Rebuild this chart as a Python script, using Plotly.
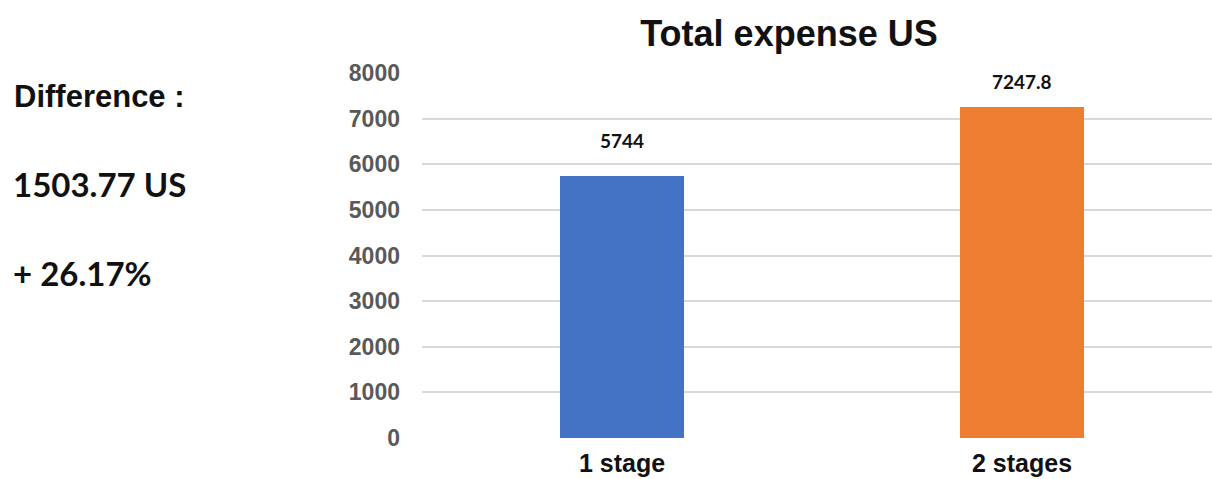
import plotly.graph_objects as go

# Expense totals per configuration
categories = ["1 stage", "2 stages"]
totals = [5744, 7247.8]
value_labels = ["5744", "7247.8"]
bar_colors = ["#4472C4", "#ED7D31"]
y_ticks = [0, 1000, 2000, 3000, 4000, 5000, 6000, 7000, 8000]

# Summary text shown beside the chart
summary_lines = ["Difference :", "1503.77 US", "+ 26.17%"]

ARIAL = "Liberation Sans"

fig = go.Figure()
fig.add_trace(go.Bar(
    x=categories,
    y=totals,
    width=0.31,
    marker=dict(color=bar_colors, line=dict(width=0)),
    hoverinfo="x+y",
))

# value labels above the bars
label_shift = [22, 12]
for cat, val, txt, dy in zip(categories, totals, value_labels, label_shift):
    fig.add_annotation(
        x=cat, y=val, text=txt, showarrow=False,
        yanchor="bottom", yshift=dy,
        font=dict(family="Lato", size=19, color="#111111", weight="bold"),
    )

# summary block on the left
fig.add_annotation(
    xref="paper", yref="paper", x=-422 / 790 + 12 / 790, y=1 + (73 - 97) / 365,
    xanchor="left", yanchor="middle", showarrow=False,
    text=summary_lines[0],
    font=dict(family=ARIAL, size=31, color="#111111", weight="bold"),
)
for line, yc in zip(summary_lines[1:], [184, 273]):
    fig.add_annotation(
        xref="paper", yref="paper", x=-422 / 790 + 11 / 790, y=1 + (73 - yc) / 365,
        xanchor="left", yanchor="middle", showarrow=False,
        text=line,
        font=dict(family="Lato", size=33, color="#111111", weight="bold"),
    )

fig.update_layout(
    width=1212, height=479,
    margin=dict(l=422, r=0, t=73, b=41),
    paper_bgcolor="white", plot_bgcolor="white",
    showlegend=False,
    bargap=0,
    title=dict(
        text="Total expense US",
        x=789 / 1212, xanchor="center", xref="container",
        y=1 - 33 / 479, yanchor="middle", yref="container",
        font=dict(family=ARIAL, size=36, color="#111111", weight="bold"),
    ),
    xaxis=dict(
        range=[-0.5, 1.475],
        showgrid=False, zeroline=False, showline=False,
        ticks="", ticklabelstandoff=8,
        tickfont=dict(family=ARIAL, size=25, color="#111111", weight="bold"),
    ),
    yaxis=dict(
        range=[0, 8000],
        tickvals=y_ticks,
        showgrid=True, gridcolor="#D9D9D9", gridwidth=1.5,
        zeroline=False, showline=False,
        ticks="", ticklabelstandoff=21,
        tickfont=dict(family=ARIAL, size=23, color="#595959", weight="bold"),
    ),
)

fig.write_html("out.html")
